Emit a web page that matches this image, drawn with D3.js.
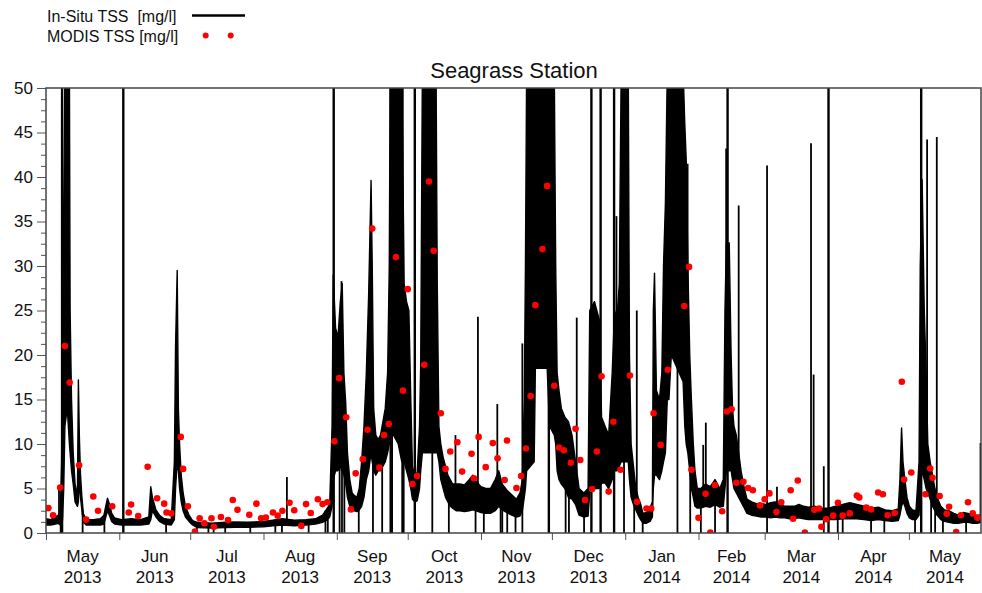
<!DOCTYPE html>
<html>
<head>
<meta charset="utf-8">
<script src="https://cdn.jsdelivr.net/npm/d3@7"></script>
<style>
  body { margin: 0; background: #fff; }
  text { font-family: "Liberation Sans", Arial, sans-serif; fill: #111; }
</style>
</head>
<body>
<svg id="chart" width="982" height="593"></svg>
<script>
// ---- data ----
const yTicks = [0, 5, 10, 15, 20, 25, 30, 35, 40, 45, 50];
const startDate = new Date(Date.UTC(2013, 4, 1));
const endDate = new Date(Date.UTC(2014, 4, 31, 12));

// in-situ record: [days since 1 May 2013, low, high] of the logged TSS (mg/l)
const insituRange = [
  [0,0.9,1.6],[2,0.9,1.5],[4,1.0,1.8],[5.2,1.1,2.0],[6.0,0.9,1.6],
  [6.6,1.2,8],[7.0,1.5,20],[7.5,5,37],[8.0,12,52],[9.0,14,52],[9.9,10,52],
  [10.2,9,25],[10.8,7,15],[11.5,5.5,9],[12.3,3.5,5.5],[13.3,3.0,4.2],
  [13.7,3.5,17.2],[14.1,6,11],[14.6,4,6.5],[15.2,2.5,4],[15.8,1.2,2.2],
  [17,0.9,1.5],[20,0.9,1.5],[23,0.9,1.6],[24.5,1.0,2.0],[25.5,2.0,3.3],
  [26.0,2.5,3.9],[26.8,2.0,3.3],[27.8,1.3,2.2],[29,1.0,1.7],[32,0.9,1.5],
  [36,0.9,1.6],[40,0.9,1.5],[43.5,1.0,1.8],[44.3,1.5,5.2],[45,2.5,4.0],
  [46.5,1.8,2.6],[48,1.3,2.0],[50,1.0,1.6],[53,0.9,1.5],[54.3,1.5,8],
  [54.8,5,21],[55.5,8,29.5],[56.0,7,14],[56.5,5,10],[57.2,3.5,6.5],
  [58,2.5,4.5],[59,1.8,3.0],[60.5,1.3,2.0],[62,0.9,1.4],
  [64,0.6,1.2],[70,0.55,1.1],[76,0.6,1.2],[80,0.65,1.25],[85,0.65,1.2],[92,0.7,1.3],
  [96,0.8,1.45],[100,0.9,1.6],[105,0.8,1.45],[110,0.9,1.5],[114,1.0,1.6],
  [117,1.2,2.0],[119,1.5,2.8],[120,1.8,3.2],[121.0,3,12],[121.5,6,29],
  [122.5,7,23],[123.5,7,22],[124.5,7.5,26],[125.3,7,28],[126.0,6.5,18],
  [126.8,5.5,14.5],[127.5,4,9],[128.5,3,6],[129.5,2.6,4.5],[130.5,2.5,4.2],
  [131.5,2.4,4.0],[132.5,2.6,5],[133.5,3,8],[134.5,4,12],[135.5,6,18],
  [136.5,7,27],[137.5,9,39.6],[138,8,30],[138.6,7,14],[139.5,6.5,11],
  [140.5,7,10.5],[141.5,7,11],[142.5,7.5,12.5],[143.5,8,14],[144.5,9,18],
  [145.2,10,30],[145.6,11,52],[147,11,52],[149,10,52],[150.5,8,52],
  [151.5,8,28],[152.5,7,26],[153.5,6,25],[154.3,5,15],[155,3.8,7.5],
  [156,3.5,6.5],[157,3.6,6.8],[158,5,12],[158.5,7,19],[159.2,9,52],
  [165,9,52],[165.5,9,28],[166.2,8,12],[167,6,10],[168,5,8.5],[169,4,7.5],
  [170,3.5,6.5],[171,3,6],[172,2.8,5.5],[173.5,2.5,5.5],[175,2.5,5.5],
  [177,2.4,5.4],[179,2.5,6],[180.5,2.6,6.5],[182,2.5,5.8],[184,2.3,5.2],
  [186,2.2,5.0],[188,2.2,5],[190,2.5,6],[191.5,3,7],[193,2.6,5.5],
  [195,2.3,4.8],[197,2.0,4.3],[199,1.8,3.8],[200.5,1.9,4.5],[201.5,2.5,6],
  [202.3,4,15],[202.8,5,30],[203.3,7,52],[206.5,8,52],[207,18.5,52],
  [212,18.5,52],[213,12,52],[215,11,52],[215.6,10,30],[216.2,7,18],
  [217,6,16],[218,5.5,14],[219.5,5,13],[221,4,12.5],[222.5,3.8,11],
  [224,3.2,8],[225.5,2,5],[227.5,1.8,4.5],[229.3,1.9,5],[230,4.5,25],
  [232,5,26],[234,5,24],[235,5.6,13],[236.5,5.6,12],[238,5,11],
  [239.5,6,18],[240.5,7,25],[241.5,7,24],[242.5,7.5,28],[243.3,8,52],
  [246.3,8,52],[246.8,6,20],[247.5,4,10],[248.5,3.2,7.5],[249.5,2.6,5],
  [250.5,2.0,4],[251.5,1.5,3.3],[252.5,1.1,2.2],[254,1.1,2.3],[255.5,1.3,2.8],
  [256.5,1.8,3.5],[256.9,5,25],[257.4,6.5,29.2],[258.2,6.5,16],[259.5,6,15],
  [260.5,7,18],[261.2,8,30],[262,9,37],[262.8,15,52],[263.5,15,52],
  [264.5,20,52],[269.5,17,52],[270.2,12,46],[270.8,10,42],[271.5,9,30],
  [272.3,7,20],[273,5,15],[273.8,4,10],[274.5,3,7],[275.5,2.8,5],
  [277,2.8,5],[279,3,5.5],[281,2.9,5.2],[283,3.2,6],[285,2.9,5],[286.5,3,6],
  [287.2,5,25],[287.8,7,32.6],[289,7,32.6],[289.8,7,20],[290.4,6,14],
  [291,5,12],[292,4.5,11],[293,4,9],[294,3.5,7],[295,3,5.5],
  [296.5,2.2,3.8],[298.5,2.0,3.5],[300.5,1.9,3.3],[302.5,1.8,3.3],[304.5,1.8,3.2],
  [306.5,1.7,3.4],[308.5,1.8,3.5],[310.5,1.7,3.3],[312.5,1.7,3.0],[314.5,1.6,3.0],
  [316.5,1.6,3.0],[318.5,1.7,3.2],[320.5,1.6,3.0],[322.5,1.5,2.9],[325,1.5,3.0],
  [328,1.5,2.8],[331,1.5,2.8],[334,1.5,3.0],[337,1.6,3.2],[340,1.6,3.4],
  [343,1.6,3.2],[346,1.5,3.0],[349,1.4,2.8],[352,1.5,2.9],[355,1.4,2.6],
  [358,1.3,2.5],[360.5,1.4,2.7],[361.2,2,6],[361.9,3,11.8],[362.5,3.5,8],
  [363.3,3,6],[364.2,2.2,4],[365.2,1.7,3],[366.5,1.5,2.6],[368,1.5,2.5],
  [369.3,2,8],[369.8,5,30],[370.6,7,39.7],[371.5,6,25],[372.3,5,18],
  [373,4.5,10],[374,3.8,8],[375,3,6.5],[376,2.5,5],[377,2,4],
  [378.5,1.5,3],[380,1.3,2.6],[382,1.2,2.5],[384,1.1,2.2],[386,1.1,2.0],
  [388,1.2,2.3],[390,1.2,2.2],[392,1.1,2.0],[394,1.1,2.0],[395.4,1.2,2.0]
];

// single-sample spikes: [day, from, to]
const fullSpikes = [
  [6.8,0,52],[32.7,0,52],[121.7,0,52],[145.8,0,52],[150.8,0,52],[156,0,52],
  [212.7,0,52],[230.7,0,52],[234.6,0,52],[240.3,0,52],[288.3,0,52],[331,0,52],[370.2,0,52]
];
const dropSpikes = [
  [6.2,0,1.8],[15.5,0,2.5],[24.7,0,2],[50.8,0,1.6],[63.8,0,1.2],[68.7,0,1.1],
  [70.9,0,1.1],[75.8,0,1.1],[86.4,0,1.2],[97,0,1.4],[99.8,0,1.5],[111.1,0,1.5],
  [118.2,0,2.5],[119.2,0,2.8],[124.2,0,8],[125.2,0,8],[126.2,0,8],[132.3,0,3],
  [138.3,0,8],[142.2,0,8],[146.4,0,12],[151.3,0,10],[163.4,0,10],[170.4,0,4],
  [181.7,0,3],[185.2,0,3],[192.3,0,3],[193,0,3],[195.1,0,3],[198.6,0,2],
  [201.5,0,3],[219.8,0,6],[221.2,0,5],[227.6,0,2],[244.5,0,10],[248.8,0,4],
  [252.4,0,1.5],[267.1,0,20],[272.5,0,8],[277,0,3],[283,0,3.5],[329,0,2],
  [334.9,0,2],[337,0,2],[349,0,1.6],[354.6,0,1.6],[367.6,0,1.6],[374.4,0,4],
  [376.1,0,3],[379.4,0,1.6],[389.2,0,1.4]
];
const upSpikes = [
  [5.5,1.5,5.3],[101.9,1.2,6.3],[125,7,28.3],[173.2,3,11],[182.7,3,24.3],
  [190.9,3,14.5],[201.5,3,21.3],[224.5,4,24.2],[241.3,8,35.6],[249.9,4,25],
  [271.4,10,41.5],[278,3,9.9],[279.1,3,12.4],[287.7,7,43.2],[293,5,36.8],
  [305,0,41.3],[309.2,2,5.2],[323.6,1.5,43.8],[324.7,1.5,17.8],[329,1.5,7.5],
  [372.7,5,44.2],[376.8,2,44.5],[395.3,1.5,10.1]
];

// MODIS overpass estimates: [date, TSS mg/l]
const modis = [
  ["2013-05-02",2.8],["2013-05-04",2.0],["2013-05-07",5.1],["2013-05-09",21.0],["2013-05-11",16.9],
  ["2013-05-15",7.6],["2013-05-18",1.5],["2013-05-21",4.1],["2013-05-23",2.5],["2013-05-29",3.0],
  ["2013-06-05",2.3],["2013-06-06",3.2],["2013-06-09",1.9],["2013-06-13",7.45],["2013-06-17",3.9],
  ["2013-06-20",3.3],["2013-06-21",2.3],["2013-06-23",2.2],["2013-06-27",10.8],["2013-06-28",7.2],
  ["2013-06-30",3.0],["2013-07-03",0.15],["2013-07-05",1.65],["2013-07-07",1.1],["2013-07-10",1.65],
  ["2013-07-11",0.7],["2013-07-14",1.8],["2013-07-17",1.45],["2013-07-19",3.7],["2013-07-21",2.6],
  ["2013-07-26",2.05],["2013-07-29",3.3],["2013-07-31",1.65],["2013-08-02",1.75],["2013-08-05",2.3],
  ["2013-08-07",1.95],["2013-08-09",2.5],["2013-08-12",3.4],["2013-08-14",2.55],["2013-08-17",0.8],
  ["2013-08-19",3.25],["2013-08-21",2.25],["2013-08-24",3.8],["2013-08-26",3.25],["2013-08-28",3.45],
  ["2013-08-31",10.3],["2013-09-02",17.4],["2013-09-05",13.0],["2013-09-07",2.65],["2013-09-09",6.7],
  ["2013-09-12",8.3],["2013-09-14",11.6],["2013-09-16",34.2],["2013-09-19",7.35],["2013-09-21",11.0],
  ["2013-09-23",12.25],["2013-09-26",31.0],["2013-09-29",16.0],["2013-10-01",27.4],["2013-10-03",5.5],
  ["2013-10-05",6.4],["2013-10-08",18.9],["2013-10-10",39.5],["2013-10-12",31.7],["2013-10-15",13.45],
  ["2013-10-17",7.2],["2013-10-19",9.15],["2013-10-22",10.2],["2013-10-24",6.9],["2013-10-28",8.9],
  ["2013-10-29",6.15],["2013-10-31",10.8],["2013-11-03",7.4],["2013-11-06",10.1],["2013-11-08",8.4],
  ["2013-11-11",5.95],["2013-11-12",10.4],["2013-11-16",5.05],["2013-11-18",6.4],["2013-11-20",9.5],
  ["2013-11-22",15.4],["2013-11-24",25.6],["2013-11-27",31.9],["2013-11-29",39.0],["2013-12-02",16.55],
  ["2013-12-04",9.6],["2013-12-06",9.3],["2013-12-09",7.9],["2013-12-11",11.7],["2013-12-13",8.2],
  ["2013-12-15",3.7],["2013-12-18",4.95],["2013-12-20",9.15],["2013-12-22",17.6],["2013-12-25",4.65],
  ["2013-12-27",12.5],["2013-12-30",7.1],["2014-01-03",17.7],["2014-01-06",3.5],["2014-01-10",2.75],
  ["2014-01-12",2.75],["2014-01-13",13.45],["2014-01-16",9.9],["2014-01-19",18.35],["2014-01-26",25.5],
  ["2014-01-28",29.9],["2014-01-29",7.1],["2014-02-01",1.7],["2014-02-04",4.4],["2014-02-06",0.05],
  ["2014-02-08",5.4],["2014-02-11",2.45],["2014-02-13",13.65],["2014-02-15",13.9],["2014-02-17",5.65],
  ["2014-02-20",5.75],["2014-02-22",5.05],["2014-02-24",4.8],["2014-02-27",3.1],["2014-03-01",3.8],
  ["2014-03-03",4.45],["2014-03-06",2.35],["2014-03-08",3.45],["2014-03-12",4.8],["2014-03-13",1.6],
  ["2014-03-15",5.9],["2014-03-18",0.05],["2014-03-22",2.6],["2014-03-24",2.75],["2014-03-25",0.7],
  ["2014-03-27",1.55],["2014-03-30",1.95],["2014-04-01",3.4],["2014-04-03",1.95],["2014-04-06",2.2],
  ["2014-04-09",4.2],["2014-04-10",4.0],["2014-04-13",2.85],["2014-04-15",2.65],["2014-04-18",4.55],
  ["2014-04-20",4.35],["2014-04-22",2.0],["2014-04-25",2.25],["2014-04-28",17.0],["2014-04-29",6.0],
  ["2014-05-02",6.8],["2014-05-08",4.35],["2014-05-10",7.25],["2014-05-11",6.2],["2014-05-14",4.15],
  ["2014-05-17",2.15],["2014-05-18",2.95],["2014-05-21",0.1],["2014-05-23",2.0],["2014-05-26",3.45],
  ["2014-05-28",2.2],["2014-05-30",1.7]
];

// ---- layout ----
const pl = 46, pr = 981, pt = 88, pb = 533;
const svg = d3.select("#chart");
const parse = d3.utcParse("%Y-%m-%d");
const dayToDate = d => new Date(startDate.getTime() + d * 864e5);

const x = d3.scaleUtc().domain([startDate, endDate]).range([pl, pr]);
const y = d3.scaleLinear().domain([0, 50]).range([pb, pt]);

svg.append("defs").append("clipPath").attr("id", "plotclip")
  .append("rect").attr("x", pl).attr("y", pt)
  .attr("width", pr - pl).attr("height", pb - pt);

const plot = svg.append("g").attr("clip-path", "url(#plotclip)");

// in-situ band
const area = d3.area()
  .x(d => x(dayToDate(d[0])))
  .y0(d => y(d[1]))
  .y1(d => y(d[2]));
plot.append("path")
  .datum(insituRange)
  .attr("d", area)
  .attr("fill", "#000")
  .attr("stroke", "#000")
  .attr("stroke-width", 1.4)
  .attr("stroke-linejoin", "round");

function spikes(data, w){
  plot.append("g").selectAll("line").data(data).join("line")
    .attr("x1", d => x(dayToDate(d[0]))).attr("x2", d => x(dayToDate(d[0])))
    .attr("y1", d => y(d[1])).attr("y2", d => y(d[2]))
    .attr("stroke", "#000").attr("stroke-width", w);
}
spikes(fullSpikes, 2.4);
spikes(dropSpikes, 1.8);
spikes(upSpikes, 1.8);

// MODIS points
plot.append("g").selectAll("circle").data(modis).join("circle")
  .attr("cx", d => x(parse(d[0])))
  .attr("cy", d => y(d[1]))
  .attr("r", 3.3)
  .attr("fill", "#ff0000");

// ---- axes ----
const yAxis = svg.append("g").attr("transform", `translate(${pl},0)`)
  .call(d3.axisLeft(y).tickValues(yTicks).tickSize(9).tickPadding(4));
yAxis.select(".domain").remove();
yAxis.selectAll(".tick line").attr("stroke", "#555");
yAxis.selectAll(".tick text").attr("font-size", 17).attr("fill", "#111")
  .style("font-family", '"Liberation Sans", Arial, sans-serif');

const yMinor = svg.append("g").attr("transform", `translate(${pl},0)`)
  .call(d3.axisLeft(y).tickValues(d3.range(0, 50, 1.25).filter(v => v % 5 !== 0)).tickSize(5).tickFormat(""));
yMinor.select(".domain").remove();
yMinor.selectAll(".tick line").attr("stroke", "#555");

const xAxis = svg.append("g").attr("transform", `translate(0,${pb})`)
  .call(d3.axisBottom(x).ticks(d3.utcMonth.every(1)).tickSize(7).tickFormat(""));
xAxis.select(".domain").remove();
xAxis.selectAll(".tick line").attr("stroke", "#555");

// month labels centred in each month
const months = d3.utcMonth.range(startDate, endDate);
const fmtMon = d3.utcFormat("%b"), fmtYear = d3.utcFormat("%Y");
const labels = svg.append("g").attr("font-size", 17).attr("text-anchor", "middle");
months.forEach(m => {
  const next = d3.utcMonth.offset(m, 1);
  const cx = (x(m) + x(next < endDate ? next : endDate)) / 2;
  labels.append("text").attr("x", cx).attr("y", 562).text(fmtMon(m));
  labels.append("text").attr("x", cx).attr("y", 583).text(fmtYear(m));
});

// frame
svg.append("rect").attr("x", pl).attr("y", pt)
  .attr("width", pr - pl).attr("height", pb - pt)
  .attr("fill", "none").attr("stroke", "#444").attr("stroke-width", 1.5);

// title
svg.append("text").attr("x", 514).attr("y", 78).attr("text-anchor", "middle")
  .attr("font-size", 22).text("Seagrass Station");

// legend
const legend = svg.append("g").attr("font-size", 16);
legend.append("text").attr("x", 47).attr("y", 21.5).style("white-space", "pre").text("In-Situ TSS  [mg/l]");
legend.append("line").attr("x1", 192).attr("x2", 245).attr("y1", 15.5).attr("y2", 15.5)
  .attr("stroke", "#000").attr("stroke-width", 2.5);
legend.append("text").attr("x", 47).attr("y", 41.5).text("MODIS TSS [mg/l]");
legend.selectAll("circle").data([205.7, 230.7]).join("circle")
  .attr("cx", d => d).attr("cy", 35.5).attr("r", 3).attr("fill", "#ff0000");
</script>
</body>
</html>
